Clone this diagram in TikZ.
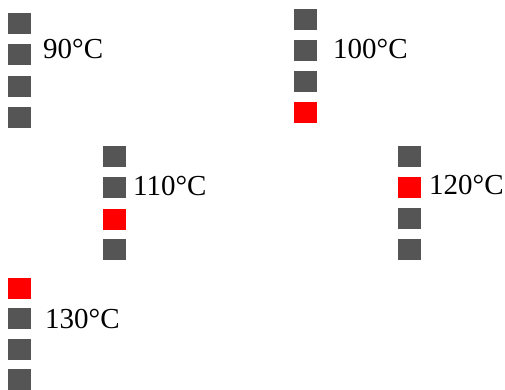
\documentclass[tikz,border=0pt]{standalone}
\usepackage{fontspec}
\setmainfont{Liberation Serif}
\definecolor{cellgray}{HTML}{555555}
\definecolor{cellred}{HTML}{FF0000}
\tikzset{
  cell/.style={draw=none, minimum width=23pt, minimum height=21pt, inner sep=0pt, outer sep=0pt},
  off/.style={cell, fill=cellgray},
  on/.style={cell, fill=cellred},
  temp/.style={anchor=base west, inner sep=0pt, font=\fontsize{29}{34}\selectfont}
}
\begin{document}
\begin{tikzpicture}[x=1pt, y=-1pt]
\useasboundingbox (0,0) rectangle (505,389);
% group 90
\node[off] (a1) at (19,23) {};
\node[off] (a2) at (19,54) {};
\node[off] (a3) at (19,86) {};
\node[off] (a4) at (19,117) {};
\node[temp] (ta) at (43,58) {90°C};
% group 100
\node[off] (b1) at (305,19) {};
\node[off] (b2) at (305,50) {};
\node[off] (b3) at (305,81) {};
\node[on]  (b4) at (305,112) {};
\node[temp] (tb) at (333,58) {100°C};
% group 110
\node[off] (c1) at (114,156) {};
\node[off] (c2) at (114,187) {};
\node[on]  (c3) at (114,219) {};
\node[off] (c4) at (114,249) {};
\node[temp] (tc) at (133,195) {110°C};
% group 120
\node[off] (d1) at (409,156) {};
\node[on]  (d2) at (409,187) {};
\node[off] (d3) at (409,218) {};
\node[off] (d4) at (409,249) {};
\node[temp] (td) at (429,194) {120°C};
% group 130
\node[on]  (e1) at (19,288) {};
\node[off] (e2) at (19,318) {};
\node[off] (e3) at (19,349) {};
\node[off] (e4) at (19,379) {};
\node[temp] (te) at (45,328) {130°C};
\end{tikzpicture}
\end{document}
